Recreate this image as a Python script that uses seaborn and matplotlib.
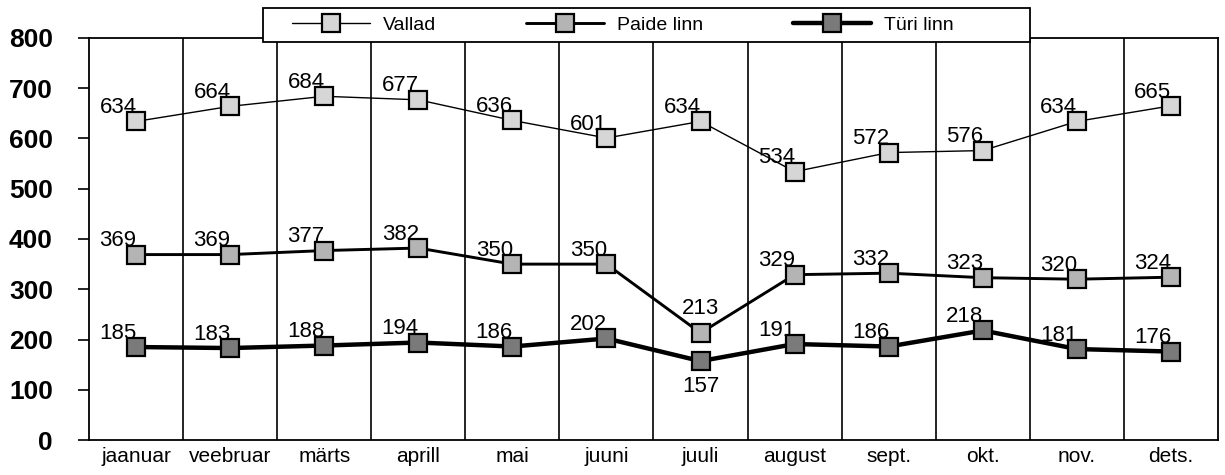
import pandas as pd
import matplotlib.pyplot as plt
import seaborn as sns
from matplotlib.patches import Rectangle

# andmed (loetud pildilt)
months = ["jaanuar", "veebruar", "märts", "aprill", "mai", "juuni",
          "juuli", "august", "sept.", "okt.", "nov.", "dets."]
vallad = [634, 664, 684, 677, 636, 601, 634, 534, 572, 576, 634, 665]
paide = [369, 369, 377, 382, 350, 350, 213, 329, 332, 323, 320, 324]
tyri = [185, 183, 188, 194, 186, 202, 157, 191, 186, 218, 181, 176]

sns.set_theme(style="white")
plt.rcParams['font.family'] = ['Liberation Sans', 'DejaVu Sans']
plt.rcParams['text.color'] = 'black'
plt.rcParams['xtick.color'] = 'black'
plt.rcParams['ytick.color'] = 'black'

W, H = 1225, 475
fig = plt.figure(figsize=(W / 100, H / 100), dpi=100)
ax = fig.add_axes([89 / W, 1 - 440 / H, (1218 - 89) / W, (440 - 38) / H])

series = [
    ("Vallad", vallad, 1.0, "#d6d6d6"),
    ("Paide linn", paide, 2.1, "#b4b4b4"),
    ("Türi linn", tyri, 3.2, "#7a7a7a"),
]

pos = list(range(len(months)))
for name, vals, lw, fc in series:
    df = pd.DataFrame({"x": pos, "y": vals})
    sns.lineplot(data=df, x="x", y="y", ax=ax, color="black", linewidth=lw,
                 marker="s", markersize=12.5, markerfacecolor=fc,
                 markeredgecolor="black", markeredgewidth=1.6, label=name,
                 legend=False)
    for i, v in enumerate(vals):
        dx, dy, va = -13, 6, "baseline"
        if name == "Paide linn" and i == 6:
            dx, dy = 0, 14
        if name == "Türi linn" and i == 6:
            dx, dy, va = 0, -11, "top"
        ax.annotate(str(v), (i, v), xytext=(dx, dy), textcoords="offset points",
                    ha="center", va=va, fontsize=16, color="black", zorder=5)

# vertikaalsed jooned kuude vahel
for b in range(1, len(months)):
    ax.axvline(b - 0.5, color="black", linewidth=1.2, zorder=0)

ax.set_xlim(-0.5, len(months) - 0.5)
ax.set_ylim(0, 800)
ax.set_yticks(range(0, 801, 100))
ax.set_yticklabels([str(t) for t in range(0, 801, 100)], fontsize=19, fontweight="bold",
                   color="black")
ax.set_xticks(pos)
ax.set_xticklabels(months, fontsize=15, color="black")
ax.tick_params(axis="y", direction="out", length=8, width=1.2, color="black", pad=18, left=True)
ax.tick_params(axis="x", length=0, pad=5)
ax.set_xlabel("")
ax.set_ylabel("")
for s in ax.spines.values():
    s.set_color("black")
    s.set_linewidth(1.3)

# legendi kast
fig.patches.append(Rectangle((263 / W, 1 - 42 / H), (1030 - 263) / W, 34 / H,
                             transform=fig.transFigure, facecolor="white",
                             edgecolor="black", linewidth=1.3, zorder=4))
handles, labels = ax.get_legend_handles_labels()
leg = fig.legend(handles, labels, loc="center", bbox_to_anchor=(623 / W, 1 - 25 / H),
                 ncol=3, fontsize=14, frameon=False, handlelength=4.0,
                 handletextpad=0.7, columnspacing=4.6, borderpad=0.2,
                 labelcolor="black")
leg.set_zorder(6)

plt.savefig("out.png", dpi=100)
